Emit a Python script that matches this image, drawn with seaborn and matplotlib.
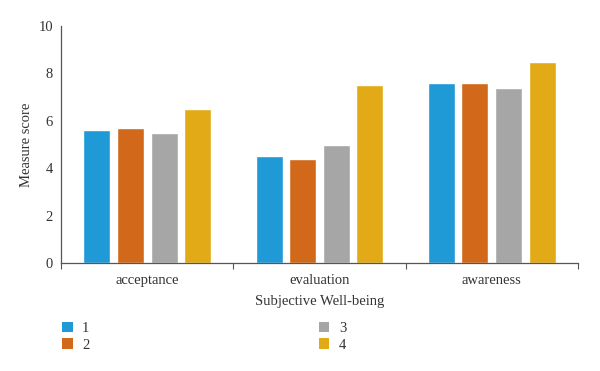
import pandas as pd
import numpy as np
import matplotlib.pyplot as plt
import seaborn as sns
from matplotlib.patches import Patch

# data
categories = ['acceptance', 'evaluation', 'awareness']
groups = ['1', '2', '3', '4']
scores_1 = [5.6, 4.5, 7.6]
scores_2 = [5.7, 4.4, 7.6]
scores_3 = [5.5, 5.0, 7.4]
scores_4 = [6.5, 7.5, 8.5]
colors = ['#1F9AD6', '#D2691A', '#A6A6A6', '#E2AA17']

df = pd.DataFrame({
    'category': categories * 4,
    'group': [g for g in groups for _ in categories],
    'score': scores_1 + scores_2 + scores_3 + scores_4,
})

sns.set_style('white')
plt.rcParams['font.family'] = ['Liberation Serif', 'DejaVu Serif']

fig = plt.figure(figsize=(6, 3.71), dpi=100)
ax = fig.add_axes([0.102, 0.291, 0.861, 0.639])
sns.barplot(data=df, x='category', y='score', hue='group', order=categories,
            hue_order=groups, palette=colors, width=0.78, gap=0.2,
            saturation=1, legend=False, ax=ax)

ax.set_ylim(0, 10)
ax.set_xlim(-0.5, 2.5)
ax.set_yticks([0, 2, 4, 6, 8, 10])
ax.set_xticks([0, 1, 2])
ax.set_xticks([-0.5, 0.5, 1.5, 2.5], minor=True)
ax.tick_params(axis='x', which='major', length=0, labelsize=10.5, colors='#333333', pad=8)
ax.tick_params(axis='x', which='minor', length=4, width=0.8, color='#555555', direction='out', bottom=True)
ax.tick_params(axis='y', length=0, labelsize=10.5, colors='#333333', pad=6)
ax.set_xlabel('Subjective Well-being', fontsize=10.5, color='#333333', labelpad=6)
ax.set_ylabel('Measure score', fontsize=10.5, color='#333333', labelpad=4)

for side in ['top', 'right']:
    ax.spines[side].set_visible(False)
for side in ['left', 'bottom']:
    ax.spines[side].set_color('#555555')
    ax.spines[side].set_linewidth(0.9)

handles = [Patch(facecolor=c, edgecolor='none') for c in colors]
fig.legend(handles, groups, loc='upper left', bbox_to_anchor=(0.082, 0.167),
           ncol=2, frameon=False, fontsize=10.5, handlelength=0.7, handleheight=0.7,
           handletextpad=0.65, columnspacing=15.75, labelspacing=0.2,
           labelcolor='#333333')

fig.savefig('out.png', dpi=100)
